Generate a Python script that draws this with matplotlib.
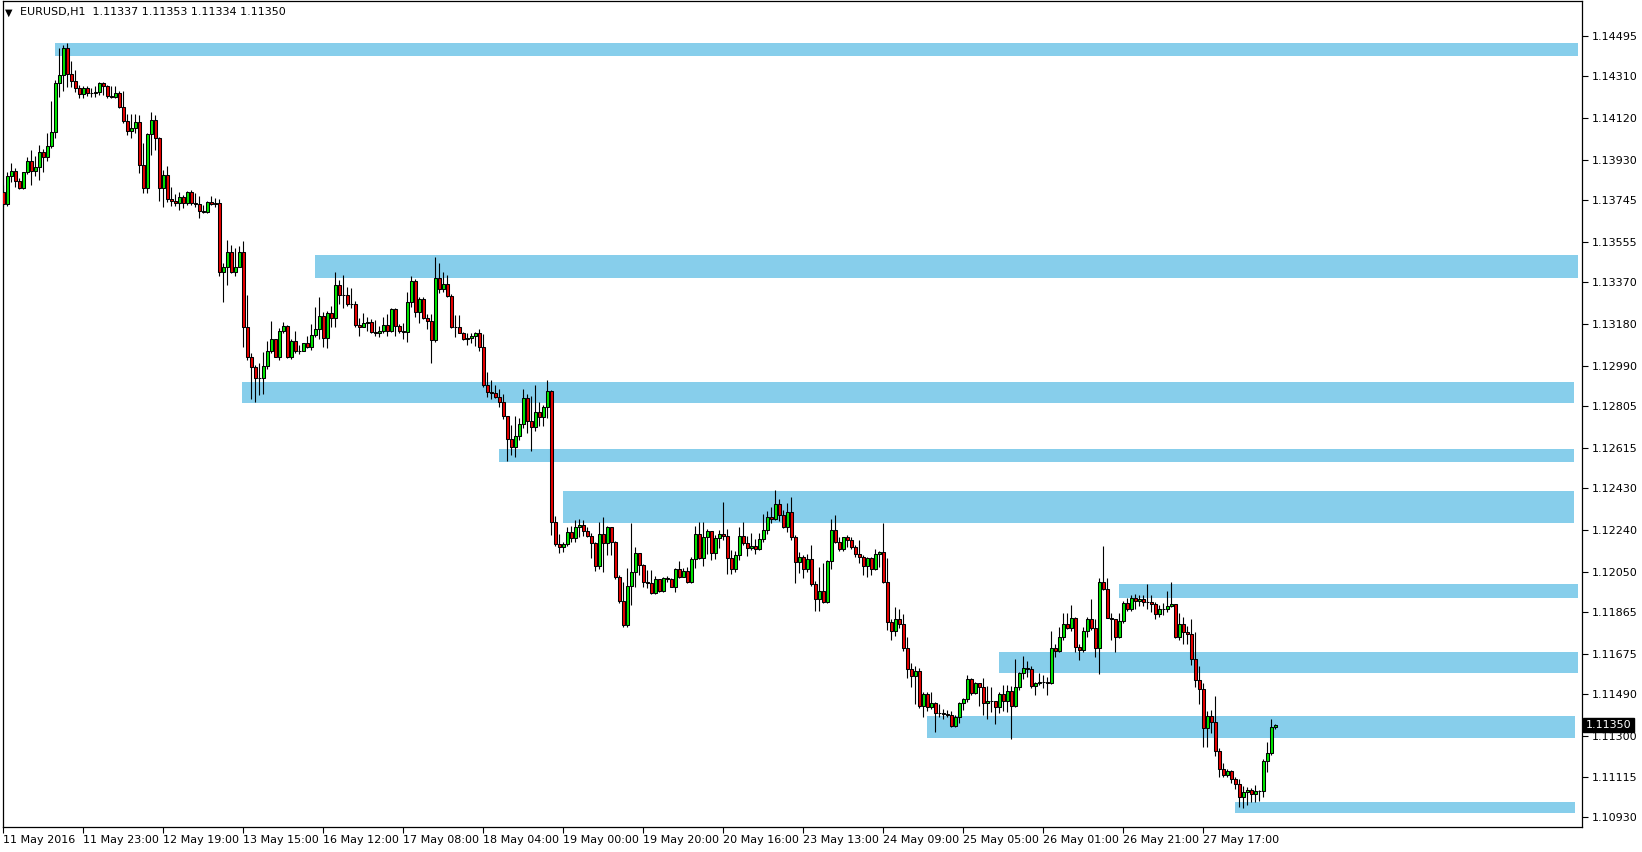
import numpy as np
import matplotlib.pyplot as plt
from matplotlib.patches import Rectangle

# EURUSD H1 candles, prices in points above 1.00000 (13728 -> 1.13728)
first_open = 13783
close_pts = [
    13728, 13856, 13877, 13834, 13800, 13873, 13923, 13880, 13897, 13964,
    13944, 13991, 14055, 14282, 14317, 14439, 14320, 14291, 14256, 14229,
    14256, 14236, 14233, 14240, 14282, 14268, 14221, 14218, 14235, 14172,
    14108, 14062, 14073, 14101, 13907, 13802, 14046, 14111, 14031, 13800,
    13859, 13749, 13743, 13731, 13758, 13734, 13781, 13734, 13728, 13697,
    13693, 13736, 13728, 13731, 13416, 13439, 13508, 13419, 13442, 13508,
    13165, 13028, 12985, 12932, 12932, 12989, 13057, 13110, 13031, 13148,
    13171, 13028, 13103, 13058, 13058, 13092, 13074, 13129, 13156, 13215,
    13115, 13229, 13206, 13358, 13311, 13311, 13270, 13270, 13174, 13168,
    13186, 13188, 13145, 13138, 13148, 13174, 13150, 13247, 13172, 13150,
    13145, 13279, 13377, 13236, 13293, 13206, 13195, 13107, 13389, 13339,
    13363, 13308, 13165, 13165, 13141, 13110, 13115, 13125, 13138, 13077,
    12902, 12871, 12867, 12848, 12826, 12760, 12654, 12620, 12669, 12722,
    12841, 12739, 12709, 12777, 12757, 12800, 12874, 12278, 12176, 12161,
    12175, 12230, 12204, 12252, 12263, 12237, 12213, 12179, 12076, 12222,
    12179, 12252, 12187, 12027, 11917, 11807, 11985, 12047, 12134, 12080,
    12004, 12000, 11951, 12015, 11963, 12020, 12016, 11981, 12061, 12027,
    12054, 12004, 12108, 12222, 12114, 12207, 12235, 12134, 12202, 12220,
    12214, 12114, 12061, 12126, 12213, 12182, 12159, 12167, 12155, 12198,
    12240, 12298, 12289, 12359, 12309, 12252, 12321, 12210, 12095, 12115,
    12061, 12106, 11994, 11924, 11962, 11913, 12099, 12240, 12187, 12153,
    12207, 12194, 12161, 12129, 12118, 12077, 12111, 12062, 12131, 12140,
    12004, 11822, 11779, 11833, 11811, 11700, 11604, 11574, 11597, 11437,
    11492, 11431, 11449, 11406, 11406, 11400, 11396, 11345, 11388, 11449,
    11467, 11559, 11497, 11540, 11522, 11452, 11461, 11460, 11434, 11492,
    11461, 11505, 11438, 11522, 11586, 11609, 11607, 11528, 11540, 11548,
    11548, 11543, 11700, 11689, 11753, 11810, 11791, 11837, 11707, 11692,
    11779, 11833, 11794, 11700, 12001, 11969, 11840, 11833, 11753, 11825,
    11905, 11878, 11928, 11917, 11924, 11913, 11913, 11904, 11855, 11880,
    11878, 11893, 11902, 11753, 11810, 11776, 11765, 11650, 11556, 11513,
    11335, 11391, 11365, 11233, 11148, 11122, 11140, 11102, 11079, 11023,
    11043, 11053, 11034, 11049, 11050, 11187, 11224, 11340, 11350,
]
high_pts = [
    13815, 13875, 13914, 13891, 13845, 13875, 13944, 13974, 13947, 13997,
    13979, 14051, 14198, 14294, 14439, 14454, 14461, 14382, 14340, 14271,
    14267, 14267, 14256, 14267, 14286, 14286, 14271, 14267, 14267, 14245,
    14245, 14137, 14137, 14137, 14134, 14008, 14053, 14149, 14134, 14032,
    13883, 13901, 13807, 13774, 13783, 13769, 13789, 13792, 13779, 13764,
    13723, 13743, 13764, 13757, 13752, 13457, 13564, 13541, 13526, 13536,
    13560, 13313, 13047, 12993, 13004, 13054, 13104, 13195, 13110, 13161,
    13191, 13176, 13110, 13150, 13084, 13093, 13125, 13180, 13256, 13305,
    13236, 13241, 13262, 13419, 13381, 13404, 13350, 13343, 13287, 13206,
    13232, 13214, 13203, 13199, 13171, 13214, 13226, 13252, 13252, 13180,
    13183, 13325, 13399, 13384, 13302, 13302, 13226, 13226, 13487, 13457,
    13419, 13404, 13317, 13221, 13221, 13145, 13141, 13138, 13145, 13156,
    13133, 12960, 12925, 12902, 12882, 12861, 12760, 12719, 12760, 12750,
    12882, 12861, 12852, 12902, 12826, 12811, 12925, 12879, 12304, 12222,
    12187, 12255, 12258, 12286, 12289, 12286, 12255, 12225, 12187, 12278,
    12298, 12258, 12255, 12191, 12035, 12004, 12065, 12273, 12164, 12134,
    12085, 12057, 12057, 12030, 11999, 12027, 12030, 12020, 12065, 12099,
    12065, 12070, 12115, 12258, 12278, 12278, 12243, 12237, 12217, 12240,
    12368, 12243, 12149, 12146, 12255, 12278, 12213, 12225, 12198, 12228,
    12313, 12328, 12346, 12423, 12380, 12331, 12362, 12389, 12217, 12141,
    12126, 12131, 12172, 12009, 12070, 12088, 12103, 12289, 12309, 12210,
    12210, 12217, 12210, 12172, 12194, 12126, 12118, 12118, 12152, 12146,
    12271, 12111, 11834, 11890, 11878, 11857, 11753, 11632, 11619, 11609,
    11502, 11502, 11502, 11456, 11446, 11422, 11419, 11415, 11396, 11456,
    11472, 11578, 11563, 11548, 11543, 11563, 11528, 11525, 11461, 11502,
    11533, 11533, 11528, 11651, 11593, 11665, 11644, 11619, 11548, 11586,
    11578, 11570, 11781, 11720, 11799, 11860, 11863, 11898, 11842, 11720,
    11796, 11844, 11924, 11833, 12020, 12167, 12020, 11860, 11833, 11860,
    11917, 11928, 11943, 11948, 11943, 11943, 11994, 11943, 11910, 11898,
    11908, 11963, 12003, 11902, 11863, 11842, 11802, 11833, 11776, 11619,
    11543, 11415, 11419, 11482, 11244, 11178, 11148, 11145, 11111, 11102,
    11072, 11069, 11061, 11076, 11053, 11194, 11274, 11377, 11353,
]
low_pts = [
    13714, 13719, 13830, 13804, 13795, 13798, 13865, 13815, 13856, 13837,
    13875, 13926, 13982, 14028, 14218, 14244, 14263, 14261, 14240, 14210,
    14210, 14221, 14218, 14215, 14225, 14225, 14210, 14210, 14210, 14165,
    14099, 14043, 14028, 14051, 13871, 13777, 13780, 13952, 13974, 13743,
    13713, 13738, 13719, 13719, 13701, 13708, 13723, 13723, 13713, 13663,
    13688, 13688, 13723, 13716, 13401, 13282, 13358, 13412, 13401, 13439,
    13074, 13016, 12837, 12826, 12856, 12861, 12974, 13047, 13028, 13016,
    13138, 13025, 13019, 13047, 13043, 13057, 13071, 13062, 13120, 13110,
    13077, 13069, 13165, 13165, 13272, 13252, 13262, 13252, 13165, 13125,
    13165, 13150, 13138, 13127, 13122, 13138, 13127, 13145, 13127, 13141,
    13112, 13099, 13259, 13214, 13183, 13203, 13157, 13004, 13099, 13320,
    13325, 13302, 13161, 13120, 13138, 13107, 13084, 13092, 13080, 13058,
    12894, 12848, 12837, 12841, 12803, 12745, 12556, 12582, 12572, 12651,
    12704, 12684, 12602, 12693, 12715, 12715, 12750, 12217, 12167, 12137,
    12141, 12167, 12187, 12187, 12210, 12213, 12207, 12111, 12054, 12061,
    12050, 12126, 12126, 12015, 11906, 11796, 11796, 11898, 11981, 12035,
    11979, 11974, 11948, 11948, 11958, 11958, 12004, 11979, 11958, 12020,
    12024, 11999, 11997, 12065, 12106, 12076, 12131, 12103, 12106, 12157,
    12194, 12039, 12039, 12050, 12103, 12172, 12121, 12149, 12131, 12149,
    12187, 12222, 12271, 12286, 12283, 12248, 12232, 12194, 11997, 12045,
    12020, 12050, 11984, 11872, 11872, 11908, 11908, 12061, 12182, 12146,
    12146, 12161, 12152, 12118, 12088, 12035, 12024, 12035, 12057, 12070,
    11997, 11784, 11738, 11756, 11793, 11688, 11563, 11525, 11446, 11426,
    11388, 11415, 11422, 11320, 11388, 11376, 11388, 11342, 11342, 11361,
    11419, 11456, 11487, 11492, 11437, 11396, 11376, 11411, 11355, 11404,
    11415, 11411, 11285, 11434, 11510, 11559, 11570, 11518, 11487, 11533,
    11520, 11487, 11537, 11659, 11685, 11738, 11787, 11781, 11685, 11647,
    11685, 11753, 11784, 11662, 11581, 11966, 11837, 11738, 11685, 11746,
    11814, 11872, 11872, 11878, 11893, 11893, 11878, 11867, 11832, 11844,
    11852, 11867, 11887, 11746, 11738, 11720, 11720, 11624, 11522, 11446,
    11248, 11251, 11312, 11209, 11114, 11114, 11114, 11084, 11057, 10974,
    10970, 10985, 11000, 11000, 11005, 11023, 11137, 11213, 11334,
]

# supply / demand zones: first bar, last bar, lower and upper price (points)
zone_start = [12.9, 77.9, 59.8, 123.9, 139.9, 278.9, 248.9, 230.9, 307.9]
zone_end = [393.7, 393.7, 392.7, 392.7, 392.7, 393.7, 393.7, 392.9, 392.9]
zone_low = [14403, 13392, 12821, 12552, 12271, 11931, 11589, 11292, 10950]
zone_high = [14464, 13495, 12917, 12610, 12419, 11994, 11685, 11393, 10997]

date_labels = ['11 May 2016', '11 May 23:00', '12 May 19:00', '13 May 15:00',
               '16 May 12:00', '17 May 08:00', '18 May 04:00', '19 May 00:00',
               '19 May 20:00', '20 May 16:00', '23 May 13:00', '24 May 09:00',
               '25 May 05:00', '26 May 01:00', '26 May 21:00', '27 May 17:00']
price_ticks = [1.14495, 1.14310, 1.14120, 1.13930, 1.13745, 1.13555, 1.13370,
               1.13180, 1.12990, 1.12805, 1.12615, 1.12430, 1.12240, 1.12050,
               1.11865, 1.11675, 1.11490, 1.11300, 1.11115, 1.10930]
last_ohlc = [1.11337, 1.11353, 1.11334, 1.11350]

close = 1 + np.array(close_pts) / 1e5
high = 1 + np.array(high_pts) / 1e5
low = 1 + np.array(low_pts) / 1e5
opens = 1 + np.array([first_open] + close_pts[:-1]) / 1e5
n = len(close)
x = np.arange(n)

W, H = 1642, 852
fig = plt.figure(figsize=(W / 100, H / 100), dpi=100)
ax = fig.add_axes([2.5 / W, 25 / H, (1581.7 - 2.5) / W, (827 - 1) / H])

# zones behind the candles
for s, e, lo, hi in zip(zone_start, zone_end, zone_low, zone_high):
    ax.add_patch(Rectangle((s, 1 + lo / 1e5), e - s, (hi - lo) / 1e5,
                           facecolor='#87ceeb', edgecolor='none', zorder=1))

# candles
top = np.maximum(opens, close)
bot = np.minimum(opens, close)
ax.vlines(x, np.minimum(low, bot), np.maximum(high, top), color='black',
          lw=0.8, zorder=2)
colors = np.where(close > opens, '#00e600', np.where(close < opens, '#e60000', 'black'))
ax.bar(x, top - bot, bottom=bot, width=0.72, color=colors, edgecolor='black',
       linewidth=0.75, zorder=3)

ax.set_xlim(-0.15, 394.6)
ax.set_ylim(1.108846, 1.14654)

ax.yaxis.tick_right()
ax.set_yticks(price_ticks, [f'{p:.5f}' for p in price_ticks])
ax.set_xticks(np.arange(len(date_labels)) * 20, date_labels)
for lab in ax.get_xticklabels():
    lab.set_horizontalalignment('left')
ax.tick_params(axis='y', direction='out', length=4, width=0.8, pad=3,
               labelsize=8, colors='black')
ax.tick_params(axis='x', direction='out', length=4, width=0.8, pad=2,
               labelsize=8, colors='black')
for sp in ax.spines.values():
    sp.set_linewidth(0.9)
    sp.set_color('black')

# current price marker on the price scale
ax.text(1.0 + 4 / 1579, last_ohlc[3], f'{last_ohlc[3]:.5f}',
        transform=ax.get_yaxis_transform(), ha='left', va='center',
        fontsize=8, color='white', zorder=10,
        bbox=dict(boxstyle='square,pad=0.2', facecolor='black', edgecolor='black'),
        clip_on=False)

# header
fig.text(5 / W, 1 - 12.5 / H, '\u25bc', fontsize=7, va='center', ha='left')
fig.text(20 / W, 1 - 12.5 / H,
         'EURUSD,H1  ' + ' '.join(f'{v:.5f}' for v in last_ohlc),
         fontsize=8, va='center', ha='left')

fig.savefig('out.png', dpi=100, facecolor='white')
